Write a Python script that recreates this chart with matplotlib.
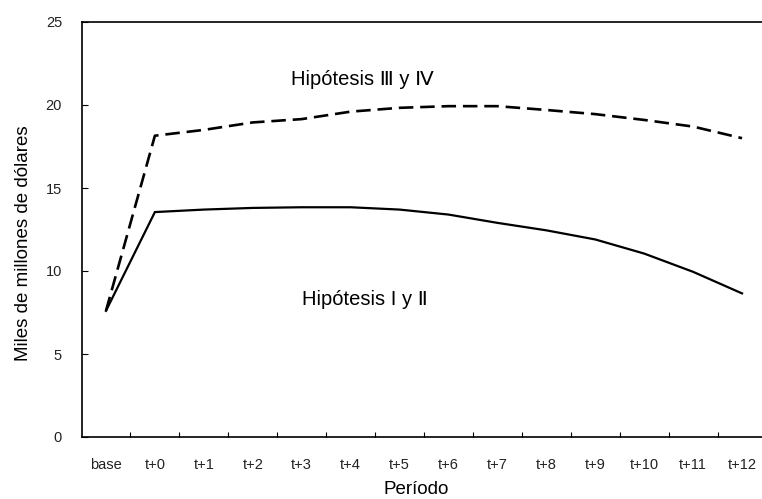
import numpy as np
import matplotlib.pyplot as plt

plt.rcParams['font.family'] = ['Liberation Sans', 'DejaVu Sans']

# categories on the x axis
periodos = ["base", "t+0", "t+1", "t+2", "t+3", "t+4", "t+5", "t+6",
            "t+7", "t+8", "t+9", "t+10", "t+11", "t+12"]

# Hipótesis I y II (solid line)
hip_1_2 = [7.6, 13.55, 13.7, 13.8, 13.84, 13.84, 13.7, 13.4,
           12.9, 12.45, 11.9, 11.05, 9.95, 8.65]

# Hipótesis III y IV (dashed line)
hip_3_4 = [7.6, 18.15, 18.5, 18.95, 19.15, 19.6, 19.83, 19.93,
           19.93, 19.7, 19.45, 19.1, 18.7, 18.0]

y_ticks = [0, 5, 10, 15, 20, 25]

fig = plt.figure(figsize=(7.62, 4.99), dpi=100)
# axes runs slightly past the right edge of the figure, like the original
ax = fig.add_axes([81.5 / 762, 62 / 499, 685 / 762, 415 / 499])

x = np.arange(len(periodos))
ax.plot(x, hip_1_2, color="black", lw=1.6, solid_joinstyle="miter")
ax.plot(x, hip_3_4, color="black", lw=1.9, dashes=(5.5, 2.6))

ax.set_xlim(-0.5, len(periodos) - 0.5)
ax.set_ylim(0, 25)

# ticks between categories, labels centred on categories
ax.set_xticks(x[:-1] + 0.5)
ax.set_xticklabels([])
ax.set_xticks(x, minor=True)
ax.set_xticklabels(periodos, minor=True, fontsize=10.5, color="#222222")
ax.tick_params(axis="x", which="major", direction="in", length=3.5, width=0.8)
ax.tick_params(axis="x", which="minor", length=0, pad=15)

ax.set_yticks(y_ticks)
ax.set_yticklabels([str(v) for v in y_ticks], fontsize=10.5, color="#222222")
ax.tick_params(axis="y", direction="in", length=4, width=0.8, pad=14)

for s in ax.spines.values():
    s.set_linewidth(1.2)

ax.set_xlabel("Período", fontsize=13.5)
ax.xaxis.set_label_coords((416 - 81.5) / 685, -0.105)
ax.set_ylabel("Miles de millones de dólares", fontsize=13.5)
ax.yaxis.set_label_coords(-0.072, 0.467)

ax.text(5.24, 21.55, "Hipótesis Ⅲ y Ⅳ", fontsize=14.5, ha="center", va="center")
ax.text(5.3, 8.3, "Hipótesis I y Ⅱ", fontsize=14.5, ha="center", va="center")

fig.savefig("out.png", dpi=100)
